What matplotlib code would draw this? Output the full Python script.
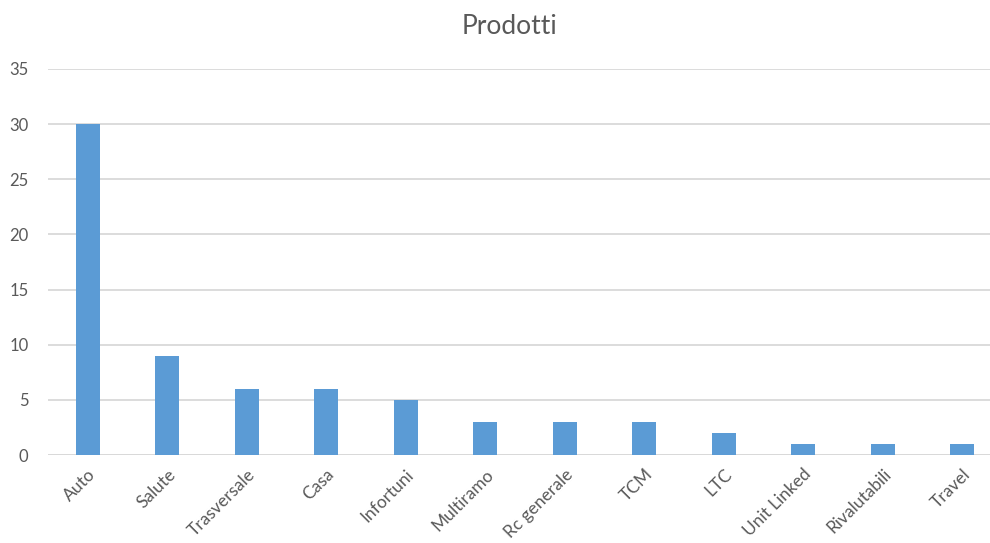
import matplotlib.pyplot as plt

prodotti = ["Auto", "Salute", "Trasversale", "Casa", "Infortuni", "Multiramo",
            "Rc generale", "TCM", "LTC", "Unit Linked", "Rivalutabili", "Travel"]
valori = [30, 9, 6, 6, 5, 3, 3, 3, 2, 1, 1, 1]

plt.rcParams['font.family'] = ['Lato', 'DejaVu Sans']

fig = plt.figure(figsize=(9.9, 5.43), dpi=100)
ax = fig.add_axes([0.0485, 0.162, 0.9515, 0.711])

x = range(len(prodotti))
ax.bar(x, valori, width=0.3, color="#5B9BD5", zorder=3)

ax.set_ylim(0, 35)
ax.set_xlim(-0.5, 11.35)
ax.set_yticks(range(0, 36, 5))
ax.yaxis.grid(True, color="#D9D9D9", linewidth=1.3, zorder=0)
ax.set_xticks(list(x))
ax.set_xticklabels(prodotti, rotation=45, ha="right", va="top", rotation_mode="anchor")

for s in ax.spines.values():
    s.set_visible(False)
ax.axhline(0, color="#D9D9D9", linewidth=1.3, zorder=2)
ax.tick_params(axis="both", length=0, colors="#595959")
ax.tick_params(axis="y", pad=14, labelsize=12)
ax.tick_params(axis="x", pad=8, labelsize=12.5)

fig.text(0.515, 0.952, "Prodotti", ha="center", va="center", fontsize=19, color="#595959")

fig.savefig("out.png", dpi=100)
